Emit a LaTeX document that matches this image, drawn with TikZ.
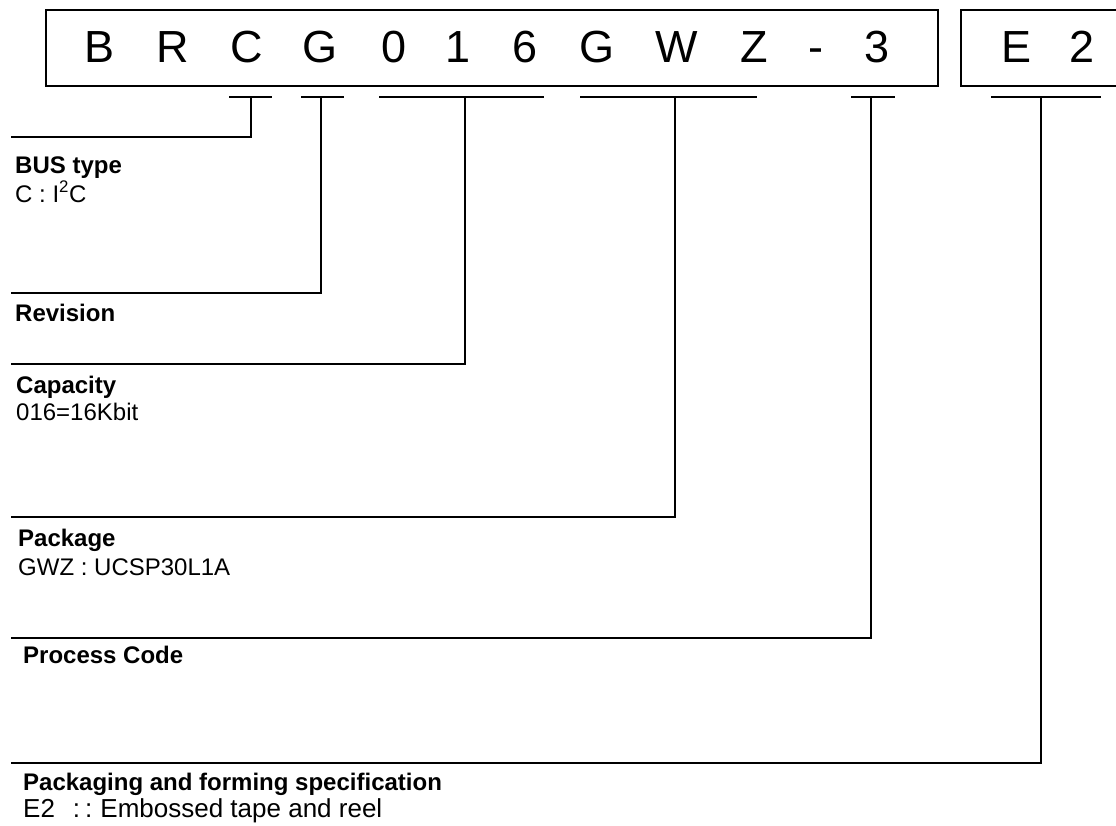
\documentclass[tikz,border=0pt]{standalone}
\usepackage{fontspec}
\setmainfont{Liberation Sans}
\usepackage{tikz}

\begin{document}
\begin{tikzpicture}[x=1pt,y=-1pt,
    code/.style={font=\fontsize{45}{54}\selectfont, anchor=base, inner sep=0pt},
    head/.style={font=\fontsize{24}{28}\selectfont\bfseries, anchor=base west, inner sep=0pt},
    desc/.style={font=\fontsize{24}{28}\selectfont, anchor=base west, inner sep=0pt},
    frame/.style={line width=1.5pt},
    lead/.style={line width=1.5pt}]
        \useasboundingbox (0,0) rectangle (1116,825);

        % --- part number boxes ---
        \draw[frame] (46,10) rectangle (938,86);
        \draw[frame] (961,10) rectangle (1140,86);
        \foreach \x/\c/\n in {100/B/b, 173/R/r, 247/C/c, 320/G/g, 394/0/d0, 458/1/d1,
                              525/6/d6, 597/G/g2, 677/W/w, 754/Z/z, 816/-/dash, 877/3/d3,
                              1016/E/e, 1082/2/d2}
            \node[code] (\n) at (\x,62) {\c};

        % --- ticks under the fields ---
        \foreach \a/\b/\m/\n in {229/272/251/bus, 301/344/321/rev, 379/544/465/cap,
                                 580/757/675/pkg, 851/895/871/proc, 991/1101/1041/spec} {
            \draw[lead] (\a,97) -- (\b,97);
            \coordinate (t\n) at (\m,97);
        }

        % --- leaders to the left margin ---
        \foreach \n/\y in {bus/137, rev/293, cap/364, pkg/517, proc/638, spec/763} {
            \coordinate (e\n) at (11,\y);
            \draw[lead] (t\n) |- (e\n);
        }

        % --- descriptions ---
        \node[head] (bus)   at (15,173) {BUS type};
        \node[desc] (busv)  at (15,202) {C : I\textsuperscript{2}C};
        \node[head] (rev)   at (15,321) {Revision};
        \node[head] (cap)   at (16,393) {Capacity};
        \node[desc] (capv)  at (16,420) {016=16Kbit};
        \node[head] (pkg)   at (18,546) {Package};
        \node[desc] (pkgv)  at (18,575) {GWZ : UCSP30L1A};
        \node[head] (proc)  at (23,663) {Process Code};
        \node[head] (spec)  at (23,790) {Packaging and forming specification};
        \node[desc, font=\fontsize{26}{30}\selectfont] (specv) at (23,817)
            {E2\hspace{18pt}:\hspace{5pt}:\hspace{8pt}Embossed tape and reel};
    \end{tikzpicture}
\end{document}
